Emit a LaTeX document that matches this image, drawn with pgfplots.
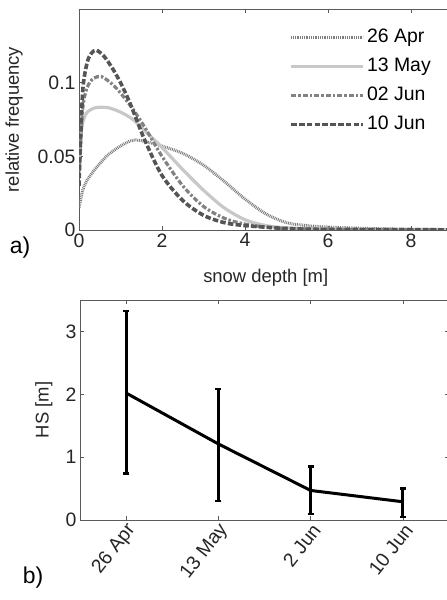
\documentclass[border=0pt]{standalone}
\usepackage{fontspec}
\setmainfont{Liberation Sans}
\usepackage{pgfplots}
\pgfplotsset{compat=1.18}
\usepackage{pgfplotstable}

\definecolor{axgray}{RGB}{90,90,90}
\definecolor{cApr}{RGB}{125,125,125}
\definecolor{cMay}{RGB}{200,200,200}
\definecolor{cJun}{RGB}{130,130,130}
\definecolor{cJunb}{RGB}{85,85,85}

\pgfplotstableread{
x    y     ep    em
1    2.02  1.31  1.28
2    1.21  0.88  0.91
3    0.47  0.38  0.37
4    0.29  0.21  0.24
}\hsdata

\pgfplotsset{
  matstyle/.style={
    scale only axis,
    axis line style={axgray, line width=0.8bp},
    tick style={axgray, line width=0.6bp},
    tick align=inside,
    major tick length=4bp,
    tick label style={font=\fontsize{19.5}{22}\selectfont, text=black!85},
    label style={font=\fontsize{18.5}{21}\selectfont, text=black!85},
    /pgf/number format/assume math mode=true,
  }
}

\begin{document}
\begin{tikzpicture}[x=1bp,y=1bp]

%% a) snow depth distributions
\begin{axis}[
  matstyle,
  at={(79bp,370bp)}, anchor=south west,
  width=373.5bp, height=221bp,
  xmin=0, xmax=9, ymin=0, ymax=0.15,
  xtick={0,2,4,6,8},
  ytick={0,0.05,0.1},
  yticklabels={0,0.05,0.1},
  xlabel={snow depth [m]},
  ylabel={relative frequency},
  xlabel style={at={(axis description cs:0.5,-0.217)}, anchor=center},
  ylabel style={at={(axis description cs:-0.174,0.5)}, anchor=center, rotate=0},
  legend style={at={(0.555,0.93)}, anchor=north west, draw=none, fill=none,
    font=\fontsize{19.5}{22}\selectfont, row sep=7bp,
    nodes={inner sep=2bp, text height=14bp, text depth=4bp}},
  legend cell align=left,
  legend image code/.code={\draw[#1] (0bp,0bp) -- (72bp,0bp);},
]
\addplot[cApr, line width=3bp, dash pattern=on 0.9bp off 0.9bp, smooth] coordinates {
 (0,0.015)(0.05,0.022)(0.1,0.028)(0.2,0.034)(0.35,0.040)(0.5,0.045)(0.7,0.051)
 (1.0,0.057)(1.3,0.061)(1.6,0.060)(2.0,0.057)(2.5,0.052)(3.0,0.044)(3.5,0.033)
 (4.0,0.021)(4.5,0.011)(5.0,0.005)(5.5,0.003)(6,0.002)(7,0.001)(8,0.0005)(9,0.0003)
};
\addlegendentry{26 Apr}
\addplot[cMay, line width=3.2bp, smooth] coordinates {
 (0,0.045)(0.05,0.065)(0.1,0.074)(0.2,0.080)(0.4,0.083)(0.7,0.083)(1.0,0.080)
 (1.3,0.075)(1.6,0.067)(2.0,0.056)(2.5,0.041)(3.0,0.027)(3.5,0.015)(4.0,0.007)
 (4.5,0.003)(5,0.0015)(6,0.0005)(7,0.0002)(9,0.0001)
};
\addlegendentry{13 May}
\addplot[cJun, line width=3.2bp, dash pattern=on 5bp off 2bp on 2.5bp off 2bp, smooth] coordinates {
 (0,0.035)(0.05,0.065)(0.1,0.085)(0.2,0.097)(0.35,0.103)(0.55,0.104)(0.8,0.099)
 (1.0,0.093)(1.3,0.082)(1.6,0.069)(2.0,0.050)(2.5,0.030)(3.0,0.016)(3.5,0.008)
 (4.0,0.004)(4.5,0.002)(5,0.001)(6,0.0005)(9,0.0001)
};
\addlegendentry{02 Jun}
\addplot[cJunb, line width=3.6bp, dash pattern=on 5.5bp off 2.3bp, smooth] coordinates {
 (0,0.03)(0.05,0.07)(0.1,0.098)(0.2,0.114)(0.3,0.120)(0.42,0.122)(0.6,0.118)
 (0.8,0.110)(1.0,0.100)(1.2,0.088)(1.4,0.074)(1.6,0.060)(2.0,0.037)(2.5,0.020)
 (3.0,0.010)(3.5,0.005)(4.0,0.003)(5,0.001)(6,0.0004)(9,0.0001)
};
\addlegendentry{10 Jun}
\end{axis}

%% b) mean snow depth with spread
\begin{axis}[
  matstyle,
  at={(80bp,80bp)}, anchor=south west,
  width=369bp, height=220bp,
  xmin=0.5, xmax=4.5, ymin=0, ymax=3.5,
  xtick={1,2,3,4},
  xticklabels={26 Apr,13 May,2 Jun,10 Jun},
  xticklabel style={xshift=8bp, yshift=-4bp, rotate=52, anchor=east},
  ytick={0,1,2,3},
  ylabel={HS [m]},
  ylabel style={at={(axis description cs:-0.098,0.5)}, anchor=center},
]
\addplot[black, line width=3bp,
  error bars/.cd, y dir=both, y explicit,
  error bar style={line width=3bp, black},
  error mark options={rotate=90, mark size=3bp, line width=2.2bp, black}]
  table[x=x, y=y, y error plus=ep, y error minus=em] {\hsdata};
\end{axis}

\node[font=\fontsize{23}{25}\selectfont, anchor=center] at (20bp,352bp) {a)};
\node[font=\fontsize{23}{25}\selectfont, anchor=center] at (33bp,22bp) {b)};

\pgfresetboundingbox
\path[use as bounding box] (0bp,0bp) rectangle (447bp,600bp);
\end{tikzpicture}
\end{document}
